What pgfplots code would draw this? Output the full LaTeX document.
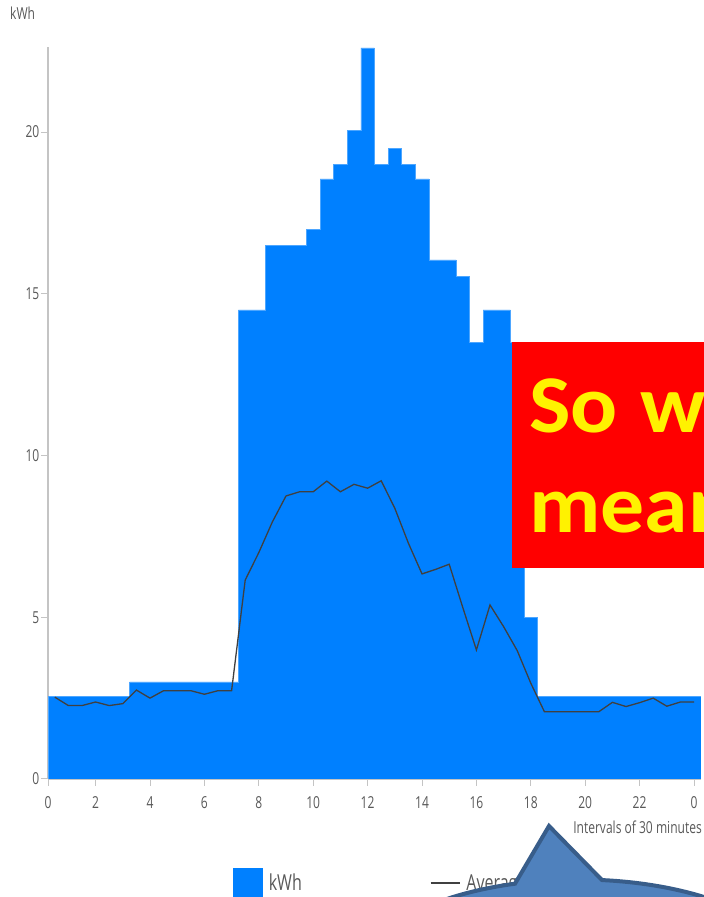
\documentclass[border=0pt]{standalone}
\usepackage{fontspec}
\usepackage{pgfplots}
\usepackage{pgfplotstable}
\pgfplotsset{compat=1.18}
\newfontfamily\chartfont[FakeStretch=0.73]{Open Sans}
\newfontfamily\boxfont[FakeStretch=1.07]{Carlito}
\definecolor{barblue}{HTML}{0080FF}
\definecolor{baredge}{HTML}{4DA6FF}
\definecolor{avgline}{HTML}{404040}
\definecolor{txtgray}{HTML}{595959}
\definecolor{axgray}{HTML}{C4C4C4}
\definecolor{callfill}{HTML}{4F81BD}
\definecolor{calldraw}{HTML}{385D8A}

% kWh per 30-minute interval (bar k spans [k,k+1]); last row closes the step
\pgfplotstableread{
k kwh
0 2.55
1 2.55
2 2.55
3 2.55
4 2.55
5 2.55
6 3.0
7 3.0
8 3.0
9 3.0
10 3.0
11 3.0
12 3.0
13 3.0
14 14.5
15 14.5
16 16.5
17 16.5
18 16.5
19 17.0
20 18.55
21 19.0
22 20.05
23 22.6
24 19.0
25 19.5
26 19.0
27 18.55
28 16.05
29 16.05
30 15.55
31 13.5
32 14.5
33 14.5
34 13.5
35 5.0
36 2.55
37 2.55
38 2.55
39 2.55
40 2.55
41 2.55
42 2.55
43 2.55
44 2.55
45 2.55
46 2.55
47 2.55
48 2.55
}\kwhtable

% average per interval, plotted at interval centres
\pgfplotstableread{
x avg
0.5 2.53
1.5 2.27
2.5 2.27
3.5 2.38
4.5 2.27
5.5 2.33
6.5 2.75
7.5 2.50
8.5 2.73
9.5 2.73
10.5 2.73
11.5 2.62
12.5 2.73
13.5 2.73
14.5 6.15
15.5 7.00
16.5 7.95
17.5 8.75
18.5 8.88
19.5 8.88
20.5 9.21
21.5 8.88
22.5 9.11
23.5 8.99
24.5 9.22
25.5 8.37
26.5 7.29
27.5 6.34
28.5 6.48
29.5 6.64
30.5 5.30
31.5 3.99
32.5 5.38
33.5 4.71
34.5 3.97
35.5 2.96
36.5 2.08
37.5 2.08
38.5 2.08
39.5 2.08
40.5 2.08
41.5 2.37
42.5 2.24
43.5 2.36
44.5 2.50
45.5 2.25
46.5 2.38
47.5 2.38
}\avgtable

\begin{document}
\begin{tikzpicture}[x=1bp,y=1bp]
\useasboundingbox (0,0) rectangle (704,897);
\clip (0,0) rectangle (704,897);
\begin{axis}[
  at={(48bp,118bp)}, anchor=south west,
  scale only axis, width=652.8bp, height=732.3bp,
  xmin=0, xmax=48, ymin=0, ymax=22.64,
  enlargelimits=false,
  axis lines*=left,
  axis line style={axgray, line width=1.5bp},
  xtick={0,3.5,7.5,11.5,15.5,19.5,23.5,27.5,31.5,35.5,39.5,43.5,47.5},
  xticklabels={0,2,4,6,8,10,12,14,16,18,20,22,0},
  ytick={0,5,10,15,20},
  tick align=outside,
  major tick length=7bp,
  tick style={axgray, line width=1bp},
  /pgf/number format/assume math mode=true,
  every tick label/.append style={font=\chartfont\fontsize{16.5bp}{18bp}\selectfont, text=txtgray},
  yticklabel style={inner sep=1.5bp},
  xticklabel style={inner sep=1.5bp, yshift=-9bp},
  legend columns=2,
  legend style={at={(axis description cs:0.2834,-0.142)}, anchor=west,
    draw=none, fill=none, inner sep=0pt,
    font=\chartfont\fontsize{22bp}{24bp}\selectfont, text=txtgray,
    nodes={inner sep=0pt},
    /tikz/every even column/.append style={column sep=128bp}},
]
\addplot[const plot, fill=barblue, draw=baredge, line width=0.6bp,
  legend image code/.code={\fill[barblue] (0bp,-14.5bp) rectangle (29bp,14.5bp); \path (35bp,0bp);}]
  table[x=k, y=kwh] {\kwhtable} \closedcycle;
\addlegendentry{kWh}
\addplot[avgline, line width=1.3bp, mark=none,
  legend image code/.code={\draw[avgline, line width=1.5bp] (0bp,0bp) -- (29bp,0bp); \path (35bp,0bp);}]
  table[x=x, y=avg] {\avgtable};
\addlegendentry{Average}
\end{axis}
% axis titles
\node[anchor=base west, inner sep=0pt, text=txtgray, font=\chartfont\fontsize{16.5bp}{18bp}\selectfont] at (10,877) {kWh};
\node[anchor=base east, inner sep=0pt, text=txtgray, font=\chartfont\fontsize{16.5bp}{18bp}\selectfont] at (702,63) {Intervals of 30 minutes};
% red overlay box (runs off the right edge, as in the slide)
\fill[red] (511.7,328.7) rectangle (720,555.3);
\node[anchor=base west, inner sep=0pt, text=yellow, font=\boxfont\bfseries\fontsize{82bp}{100bp}\selectfont] at (529,464) {So\hspace{3bp} what does this};
\node[anchor=base west, inner sep=0pt, text=yellow, font=\boxfont\bfseries\fontsize{82bp}{100bp}\selectfont] at (529,364) {mean?};
% callout shape
\filldraw[fill=callfill, draw=calldraw, line width=4bp, line join=miter]
  (602,16.94) -- (549,71) -- (515,13.3)
  arc[start angle=106.8, end angle=443.87, x radius=220, y radius=98] -- cycle;
\end{tikzpicture}
\end{document}
